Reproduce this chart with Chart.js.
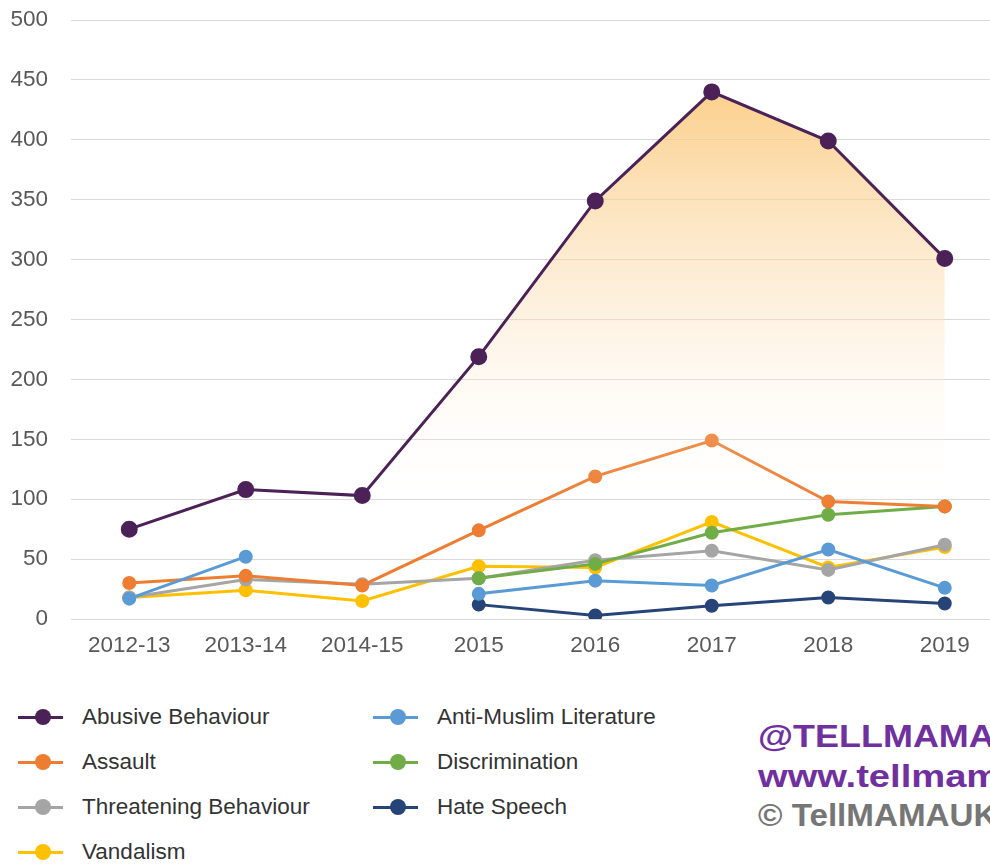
<!DOCTYPE html>
<html>
<head>
<meta charset="utf-8">
<script src="https://cdn.jsdelivr.net/npm/chart.js@4"></script>
<style>
  html, body { margin: 0; padding: 0; background: #fff; overflow: hidden; width: 990px; height: 865px; }
  body { position: relative; font-family: "Liberation Sans", Arial, sans-serif; }
  #wrap { position: absolute; left: 0; top: 0; width: 1013px; height: 680px; }
  .leg { position: absolute; font-size: 22.5px; color: #333; white-space: nowrap; }
  .leg .ln { position: absolute; left: 0; top: 50%; width: 45px; height: 3px; margin-top: -1.5px; }
  .leg .dot { position: absolute; left: 17px; top: 50%; width: 16px; height: 16px; margin-top: -8px; border-radius: 50%; }
  .leg .tx { position: absolute; left: 64px; top: 50%; transform: translateY(-50%); }
  .wm { position: absolute; left: 758px; font-weight: bold; font-size: 31px; white-space: nowrap; transform-origin: 0 0; }
</style>
</head>
<body>
<div id="wrap"><canvas id="lineChart" width="1013" height="680"></canvas></div>
<div id="legend"></div>
<div class="wm" style="top:719px;color:#7030a0;transform:scaleX(1.16);">@TELLMAMAUK</div>
<div class="wm" style="top:759px;color:#7030a0;transform:scaleX(1.23);">www.tellmamauk.org</div>
<div class="wm" style="top:798px;color:#767676;transform:scaleX(1.07);">© TellMAMAUK 2020</div>
<script>
    // categories and series
    var years = ['2012-13', '2013-14', '2014-15', '2015', '2016', '2017', '2018', '2019'];
    var yTicks = [0, 50, 100, 150, 200, 250, 300, 350, 400, 450, 500];

    var abusive = [75, 108, 103, 219, 349, 440, 399, 301];
    var antiMuslimLit = [17, 52, null, 21, 32, 28, 58, 26];
    var assault = [30, 36, 28, 74, 119, 149, 98, 94];
    var discrimination = [null, null, null, 34, 46, 72, 87, 94];
    var threatening = [18, 33, 29, 34, 49, 57, 41, 62];
    var hateSpeech = [null, null, null, 12, 3, 11, 18, 13];
    var vandalism = [18, 24, 15, 44, 43, 81, 43, 60];

    var series = [
        { label: 'Abusive Behaviour', data: abusive, color: '#4b2157', big: true },
        { label: 'Anti-Muslim Literature', data: antiMuslimLit, color: '#5b9bd5' },
        { label: 'Assault', data: assault, color: '#ed7d31' },
        { label: 'Discrimination', data: discrimination, color: '#70ad47' },
        { label: 'Threatening Behaviour', data: threatening, color: '#a5a5a5' },
        { label: 'Hate Speech', data: hateSpeech, color: '#264478' },
        { label: 'Vandalism', data: vandalism, color: '#ffc000' }
    ];

    function abusiveFill(context) {
        var chart = context.chart;
        var area = chart.chartArea;
        if (!area) return 'rgba(0,0,0,0)';
        var yScale = chart.scales.y;
        var top = yScale.getPixelForValue(440);
        var bottom = yScale.getPixelForValue(90);
        var g = chart.ctx.createLinearGradient(0, top, 0, bottom);
        g.addColorStop(0, 'rgba(250, 200, 120, 0.85)');
        g.addColorStop(0.5, 'rgba(252, 222, 180, 0.45)');
        g.addColorStop(1, 'rgba(255, 255, 255, 0)');
        return g;
    }

    var datasets = series.map(function(s) {
        return {
            label: s.label,
            data: s.data,
            borderColor: s.color,
            backgroundColor: s.big ? abusiveFill : s.color,
            pointBackgroundColor: s.color,
            pointBorderColor: s.color,
            pointRadius: s.big ? 7 : 5.5,
            borderWidth: 3,
            fill: s.big ? 'origin' : false,
            spanGaps: false,
            tension: 0
        };
    });

    var ctx = document.getElementById('lineChart').getContext('2d');
    var myChart = new Chart(ctx, {
        type: 'line',
        data: { labels: years, datasets: datasets },
        options: {
            responsive: false,
            animation: false,
            layout: { padding: { top: 20, left: 0, right: 0, bottom: 0 } },
            scales: {
                y: {
                    min: 0,
                    max: 500,
                    afterBuildTicks: function(axis) {
                        axis.ticks = yTicks.map(function(v) { return { value: v }; });
                    },
                    afterFit: function(axis) {
                        axis.width = 71;
                        axis.paddingTop = 0;
                        axis.paddingBottom = 0;
                    },
                    border: { display: false },
                    grid: { color: '#d9d9d9', lineWidth: 1, drawTicks: false },
                    ticks: { color: '#595959', padding: 23, font: { size: 22.5, family: 'Liberation Sans' } }
                },
                x: {
                    offset: true,
                    afterFit: function(axis) {
                        axis.height = 61;
                        axis.paddingLeft = 0;
                        axis.paddingRight = 0;
                    },
                    border: { display: false },
                    grid: { display: false, drawTicks: false },
                    ticks: { color: '#595959', padding: 13, maxRotation: 0, font: { size: 22.5, family: 'Liberation Sans' } }
                }
            },
            plugins: {
                legend: { display: false },
                tooltip: { enabled: false }
            }
        }
    });

    // two-column legend under the chart
    var legendOrder = [
        ['Abusive Behaviour', 18, 717], ['Assault', 18, 762], ['Threatening Behaviour', 18, 807], ['Vandalism', 18, 852],
        ['Anti-Muslim Literature', 373, 717], ['Discrimination', 373, 762], ['Hate Speech', 373, 807]
    ];
    var legendDiv = document.getElementById('legend');
    legendOrder.forEach(function(item) {
        var s = series.filter(function(x) { return x.label === item[0]; })[0];
        var el = document.createElement('div');
        el.className = 'leg';
        el.style.left = item[1] + 'px';
        el.style.top = (item[2] - 15) + 'px';
        el.style.height = '30px';
        el.style.width = '340px';
        el.innerHTML = '<span class="ln" style="background:' + s.color + '"></span>' +
            '<span class="dot" style="background:' + s.color + '"></span>' +
            '<span class="tx">' + s.label + '</span>';
        legendDiv.appendChild(el);
    });
</script>
</body>
</html>
